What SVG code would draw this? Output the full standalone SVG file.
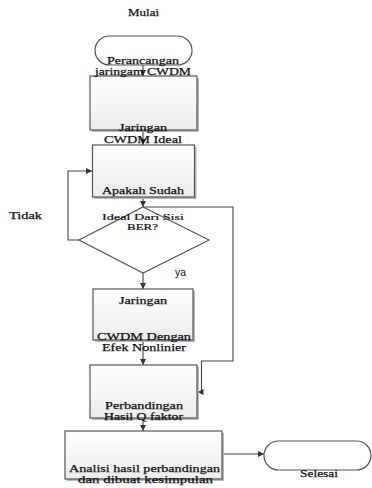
<svg xmlns="http://www.w3.org/2000/svg" width="372" height="488" viewBox="0 0 372 488">
<defs>
<linearGradient id="g" x1="0" y1="0" x2="0" y2="1">
<stop offset="0" stop-color="#ffffff"/>
<stop offset="1" stop-color="#ececec"/>
</linearGradient>
<marker id="ah" viewBox="0 0 10 10" refX="10" refY="5" markerWidth="6" markerHeight="6" orient="auto" markerUnits="userSpaceOnUse">
<path d="M0,0 L10,5 L0,10 z" fill="#333"/>
</marker>
</defs>
<style>
.shape{fill:url(#g);stroke:#555;stroke-width:1.2}
.sh{fill:#b8b8b8}
.t{font-family:"Liberation Serif","Times New Roman",serif;font-size:11px;fill:#111;stroke:#111;stroke-width:0.25;text-anchor:middle}
.s{font-family:"Liberation Sans",Arial,sans-serif;font-size:10px;fill:#111;text-anchor:middle}
.c{fill:none;stroke:#444;stroke-width:1.1;marker-end:url(#ah)}
</style>
<g id="connectors">
<path class="c" d="M143,65 V76"/>
<path class="c" d="M143,130 V145"/>
<path class="c" d="M143,197 V207"/>
<path class="c" d="M79,240 H68 V171 H92"/>
<path class="c" d="M143,207 H233 V361 H201.5 V392 H197.5"/>
<path class="c" d="M143,273 V289"/>
<path class="c" d="M143,340 V365"/>
<path class="c" d="M143,418 V431"/>
<path class="c" d="M222,454 H264"/>
</g>
<g id="start">
<rect x="95" y="36" width="97" height="29" rx="14.5" class="shape" style="fill:#fff"/>
<text class="t" x="143.5" y="16" textLength="31" lengthAdjust="spacingAndGlyphs">Mulai</text>
</g>
<g id="perancangan">
<rect x="92" y="78" width="107" height="54" class="sh"/>
<rect x="90" y="76" width="107" height="54" class="shape"/>
<text class="t" x="143" y="64" textLength="72" lengthAdjust="spacingAndGlyphs">Perancangan</text>
<text class="t" x="143" y="75" textLength="96" lengthAdjust="spacingAndGlyphs">jaringam CWDM</text>
</g>
<g id="jaringan-ideal">
<rect x="94.5" y="147" width="102" height="52" class="sh"/>
<rect x="92.5" y="145" width="102" height="52" class="shape"/>
<text class="t" x="143" y="131" textLength="48" lengthAdjust="spacingAndGlyphs">Jaringan</text>
<text class="t" x="143" y="143" textLength="78" lengthAdjust="spacingAndGlyphs">CWDM Ideal</text>
<text class="t" x="143" y="194" textLength="82" lengthAdjust="spacingAndGlyphs">Apakah Sudah</text>
</g>
<g id="decision">
<polygon points="143,207 209,240 143,273 79,240" class="shape" style="fill:#fff"/>
<text class="t" transform="translate(143,219.5) scale(1,0.78)" x="0" y="0" textLength="82" lengthAdjust="spacingAndGlyphs">Ideal Dari Sisi</text>
<text class="t" transform="translate(142.5,229.5) scale(1,0.78)" x="0" y="0" textLength="31" lengthAdjust="spacingAndGlyphs">BER?</text>
<text class="t" x="25.5" y="219" textLength="33" lengthAdjust="spacingAndGlyphs">Tidak</text>
<text class="s" x="180.5" y="276" textLength="11" lengthAdjust="spacingAndGlyphs">ya</text>
</g>
<g id="jaringan-nonlinier">
<rect x="95" y="291" width="100" height="51" class="sh"/>
<rect x="93" y="289" width="100" height="51" class="shape"/>
<text class="t" x="143" y="304" textLength="48" lengthAdjust="spacingAndGlyphs">Jaringan</text>
<text class="t" x="144" y="340" textLength="94" lengthAdjust="spacingAndGlyphs">CWDM Dengan</text>
<text class="t" x="144" y="351" textLength="84" lengthAdjust="spacingAndGlyphs">Efek Nonlinier</text>
</g>
<g id="perbandingan">
<rect x="92" y="367" width="107" height="53" class="sh"/>
<rect x="90" y="365" width="107" height="53" class="shape"/>
<text class="t" x="144" y="409" textLength="78" lengthAdjust="spacingAndGlyphs">Perbandingan</text>
<text class="t" x="143.5" y="420" textLength="79" lengthAdjust="spacingAndGlyphs">Hasil Q faktor</text>
</g>
<g id="analisi">
<rect x="67" y="433" width="157" height="48" class="sh"/>
<rect x="65" y="431" width="157" height="48" class="shape"/>
<text class="t" x="144.5" y="472" textLength="151" lengthAdjust="spacingAndGlyphs">Analisi hasil perbandingan</text>
<text class="t" x="145.5" y="483" textLength="135" lengthAdjust="spacingAndGlyphs">dan dibuat kesimpulan</text>
</g>
<g id="selesai">
<rect x="264" y="441" width="107" height="29" rx="14.5" class="shape" style="fill:#fff"/>
<text class="t" x="319" y="477" textLength="38" lengthAdjust="spacingAndGlyphs">Selesai</text>
</g>
</svg>
